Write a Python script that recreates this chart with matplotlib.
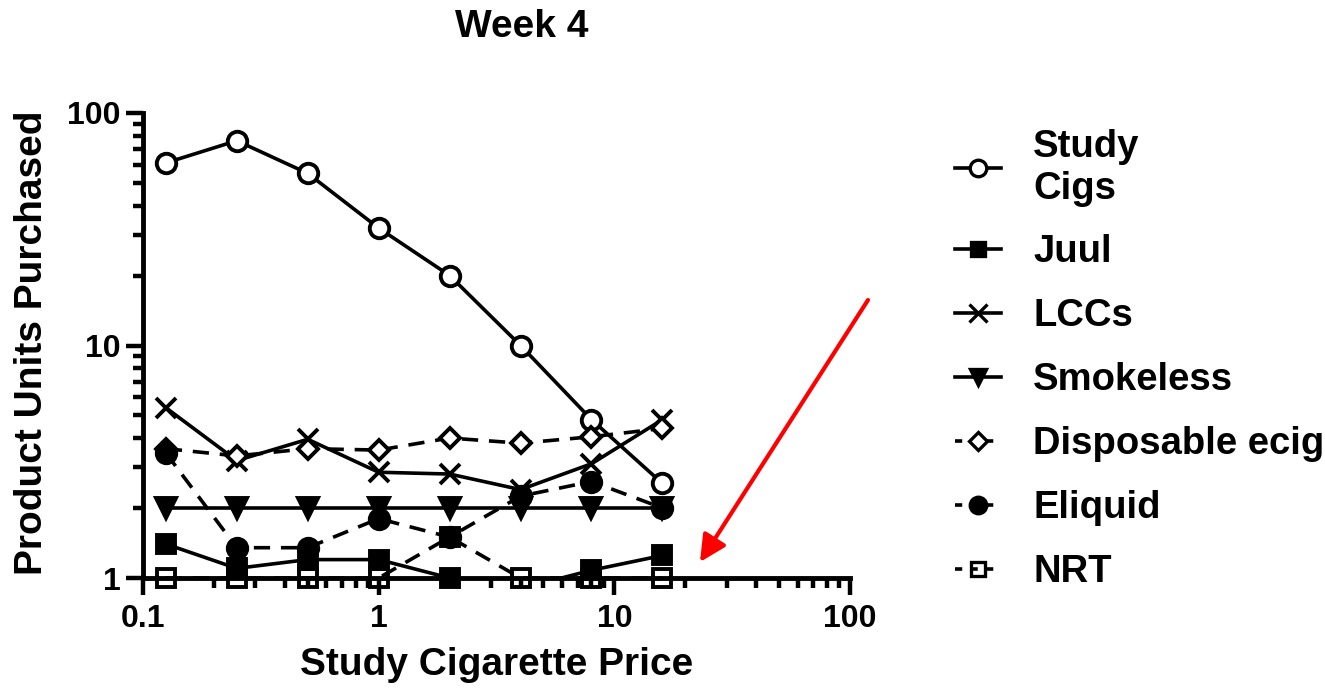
import numpy as np
import matplotlib
matplotlib.use("Agg")
import matplotlib.pyplot as plt
from matplotlib.lines import Line2D
from matplotlib.ticker import LogLocator, FixedLocator, FixedFormatter, NullFormatter

plt.rcParams['font.family'] = ['Liberation Sans', 'DejaVu Sans']
plt.rcParams['font.weight'] = 'bold'

# ---- data ----
price = [0.125, 0.25, 0.5, 1, 2, 4, 8, 16]
study_cigs = [61, 76, 55, 32, 20, 10, 4.8, 2.55]
juul = [1.4, 1.1, 1.2, 1.2, 1.0, 0.9, 1.08, 1.25]
lccs = [5.4, 3.2, 3.95, 2.85, 2.8, 2.4, 3.1, 4.8]
smokeless = [2, 2, 2, 2, 2, 2, 2, 2]
disposable = [3.6, 3.35, 3.6, 3.55, 4.0, 3.8, 4.05, 4.4]
eliquid = [3.45, 1.35, 1.35, 1.8, 1.5, 2.25, 2.6, 2.0]
nrt = [1, 1, 1, 1, 1.5, 1, 1, 1]

series_names = ["Study\nCigs", "Juul", "LCCs", "Smokeless", "Disposable ecig", "Eliquid", "NRT"]
series_values = [study_cigs, juul, lccs, smokeless, disposable, eliquid, nrt]

x_ticks = [0.1, 1, 10, 100]
x_tick_labels = ["0.1", "1", "10", "100"]
y_ticks = [1, 10, 100]
y_tick_labels = ["1", "10", "100"]

title = "Week 4"
x_label = "Study Cigarette Price"
y_label = "Product Units Purchased"

# ---- styles ----
LW = 2.6
MEW = 2.8
DASH = (4.5, 3.0)
styles = [
    dict(marker='o', ms=14, mfc='white', ls='-'),
    dict(marker='s', ms=12.5, mfc='black', ls='-'),
    dict(marker='x', ms=15, mfc='black', ls='-'),
    dict(marker='v', ms=14, mfc='black', ls='-'),
    dict(marker='D', ms=10.5, mfc='white', ls='--'),
    dict(marker='o', ms=14, mfc='black', ls='--'),
    dict(marker='s', ms=12.5, mfc='none', ls='--'),
]

W, H = 1325, 690
fig = plt.figure(figsize=(W / 100, H / 100), dpi=100)
ax = fig.add_axes([143 / W, 1 - 578 / H, (850 - 143) / W, (578 - 113) / H])

ymin, ymax = 1, 100
ax.set_xscale('log')
ax.set_yscale('log')
ax.set_xlim(0.1, 100)
ax.set_ylim(ymin, ymax)

handles = []
for i, (name, vals, st) in enumerate(zip(series_names, series_values, styles)):
    vals = np.asarray(vals, dtype=float)
    z = 3 + i * 0.1
    line_kw = dict(color='black', lw=LW, zorder=z)
    if st['ls'] == '--':
        line_kw['dashes'] = DASH
    ax.plot(price, vals, **line_kw, clip_on=True)
    shown = vals >= ymin
    mk = dict(marker=st['marker'], ms=st['ms'], mfc=st['mfc'], mec='black', mew=MEW,
              ls='none', zorder=z + 0.05)
    ax.plot(np.asarray(price)[shown], vals[shown], **mk, clip_on=False)
    h = Line2D([], [], color='black', lw=LW, marker=st['marker'], ms=st['ms'] * 0.85,
               mfc=st['mfc'], mec='black', mew=MEW * 0.85)
    if st['ls'] == '--':
        h.set_dashes((2.0, 2.3))
    handles.append(h)

# axes styling
for s in ['top', 'right']:
    ax.spines[s].set_visible(False)
for s in ['left', 'bottom']:
    ax.spines[s].set_linewidth(3.5)

ax.xaxis.set_major_locator(FixedLocator(x_ticks))
ax.xaxis.set_major_formatter(FixedFormatter(x_tick_labels))
ax.yaxis.set_major_locator(FixedLocator(y_ticks))
ax.yaxis.set_major_formatter(FixedFormatter(y_tick_labels))
ax.xaxis.set_minor_locator(LogLocator(base=10, subs=np.arange(2, 10)))
ax.yaxis.set_minor_locator(LogLocator(base=10, subs=np.arange(2, 10)))
ax.xaxis.set_minor_formatter(NullFormatter())
ax.yaxis.set_minor_formatter(NullFormatter())
ax.tick_params(which='major', length=12, width=3.2, labelsize=23, direction='out')
ax.tick_params(axis='y', which='major', pad=4)
ax.tick_params(axis='x', which='major', pad=7)
ax.tick_params(which='minor', length=7, width=3.2, direction='out')
for lab in ax.get_xticklabels() + ax.get_yticklabels():
    lab.set_fontweight('bold')

fig.text(522 / W, 1 - 27 / H, title, ha='center', va='center', fontsize=28, fontweight='bold')
fig.text(497 / W, 1 - 665 / H, x_label, ha='center', va='center', fontsize=28, fontweight='bold')
fig.text(32 / W, 1 - 343 / H, y_label, ha='center', va='center', rotation=90,
         fontsize=28, fontweight='bold')

leg = fig.legend(handles, series_names, loc='upper left',
                 bbox_to_anchor=(955 / W, 1 - 129 / H), frameon=False,
                 prop=dict(size=27.5, weight='bold'), handlelength=1.2, handletextpad=0.85,
                 labelspacing=0.73, borderpad=0, borderaxespad=0)

# red arrow annotation
fig.add_artist(matplotlib.patches.FancyArrowPatch(
    (868 / W, 1 - 300 / H), (700 / W, 1 - 562 / H), transform=fig.transFigure,
    arrowstyle='-|>,head_length=16,head_width=8', color='#ff0000', lw=3,
    mutation_scale=1, shrinkA=0, shrinkB=0))

fig.savefig('out.png', dpi=100)
